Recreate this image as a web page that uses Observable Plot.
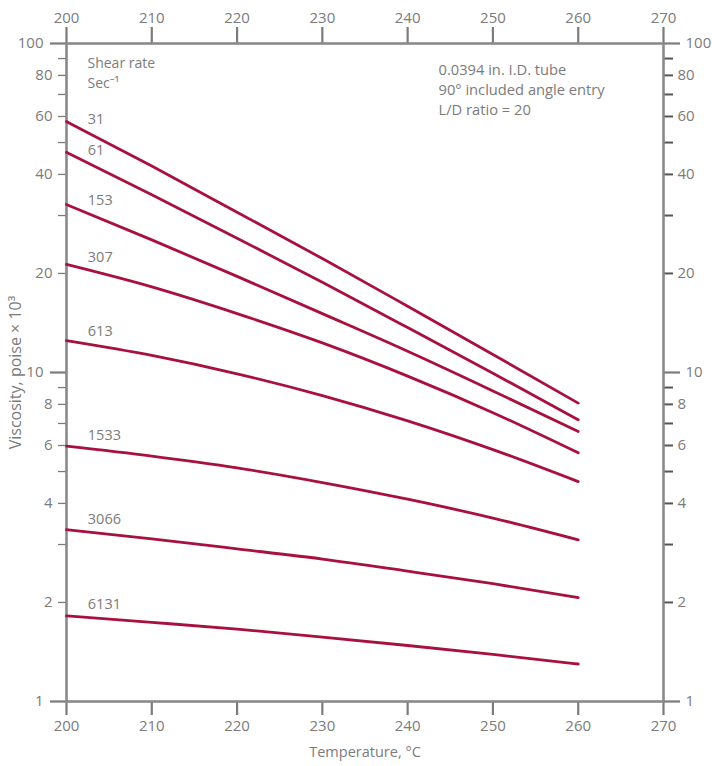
<!DOCTYPE html>
<html>
<head>
<meta charset="utf-8">
<script src="https://cdn.jsdelivr.net/npm/d3@7"></script>
<script src="https://cdn.jsdelivr.net/npm/@observablehq/plot@0.6"></script>
<style>
  html, body { margin: 0; padding: 0; background: #fff; }
  #chart svg { display: block; }
</style>
</head>
<body>
<div id="chart"></div>
<script>
// ---- data ----
const temperatures = [200, 210, 220, 230, 240, 250, 260];
const shearRates = ["31", "61", "153", "307", "613", "1533", "3066", "6131"];
const visc31   = [57.9, 42.4, 30.7, 22.2, 15.9, 11.35, 8.07];
const visc61   = [46.7, 34.7, 25.6, 18.8, 13.7, 9.95, 7.18];
const visc153  = [32.4, 25.3, 19.6, 15.1, 11.6, 8.79, 6.62];
const visc307  = [21.3, 18.2, 15.1, 12.3, 9.75, 7.55, 5.70];
const visc613  = [12.5, 11.27, 9.91, 8.51, 7.13, 5.83, 4.66];
const visc1533 = [5.97, 5.57, 5.13, 4.63, 4.12, 3.61, 3.10];
const visc3066 = [3.33, 3.12, 2.91, 2.71, 2.49, 2.28, 2.07];
const visc6131 = [1.82, 1.74, 1.66, 1.57, 1.48, 1.39, 1.30];

const xTicks = [200, 210, 220, 230, 240, 250, 260, 270];
const yMajorTicks = [1, 10, 100];
const yLabeledTicks = [2, 4, 6, 8, 20, 40, 60, 80];
const yMinorTicks = [3, 5, 7, 9, 30, 50, 70, 90];
const shearTitle = ["Shear rate", "Sec\u207B\u00B9"];
const noteLines = ["0.0394 in. I.D. tube", "90\u00B0 included angle entry", "L/D ratio = 20"];
const xTitle = "Temperature, \u00B0C";
const yTitle = "Viscosity, poise \u00D7 10\u00B3";

// ---- build tables ----
const series = [visc31, visc61, visc153, visc307, visc613, visc1533, visc3066, visc6131];
const rows = [];
series.forEach((vals, k) => vals.forEach((v, i) => rows.push({rate: shearRates[k], t: temperatures[i], v})));
const labelRows = series.map((vals, k) => {
  const f = 0.25;
  const v = Math.exp(Math.log(vals[0]) + f * (Math.log(vals[1]) - Math.log(vals[0])));
  return {rate: shearRates[k], t: temperatures[0] + f * (temperatures[1] - temperatures[0]), v};
});

const grey = "#7b7b7b";
const lineColor = "#a8113f";
const font = "'Open Sans', 'Noto Sans', sans-serif";

const chart = Plot.plot({
  width: 712,
  height: 766,
  marginLeft: 66,
  marginRight: 49,
  marginTop: 43,
  marginBottom: 65,
  style: {fontFamily: font, fontSize: "15px", color: grey, background: "#fff"},
  x: {domain: [200, 270]},
  y: {type: "log", domain: [1, 100]},
  marks: [
    // top & bottom axes
    Plot.axisX({anchor: "top", ticks: xTicks, tickSize: 17, tickPadding: 4, strokeWidth: 2.2, label: null, tickFormat: d => d, fontSize: 15}),
    Plot.axisX({anchor: "bottom", ticks: xTicks, tickSize: 14, tickPadding: 5, strokeWidth: 2.2, label: null, tickFormat: d => d, fontSize: 15}),
    // left axis ticks
    Plot.axisY({anchor: "left", ticks: yMajorTicks, tickSize: 16, tickPadding: 7, strokeWidth: 2.2, label: null, tickFormat: d => d, fontSize: 15}),
    Plot.axisY({anchor: "left", ticks: yLabeledTicks, tickSize: 8, strokeWidth: 1.3, label: null, tickFormat: () => ""}),
    Plot.axisY({anchor: "left", ticks: yMinorTicks, tickSize: 8, strokeWidth: 1.3, label: null, tickFormat: () => ""}),
    Plot.text(yLabeledTicks, {y: d => d, text: d => String(d), frameAnchor: "left", dx: -14, textAnchor: "end", lineAnchor: "middle", fill: grey, fontSize: 15}),
    // right axis ticks
    Plot.axisY({anchor: "right", ticks: yMajorTicks, tickSize: 16, tickPadding: 6, strokeWidth: 2.2, label: null, tickFormat: d => d, fontSize: 15}),
    Plot.axisY({anchor: "right", ticks: yLabeledTicks, tickSize: 9, strokeWidth: 2, stroke: "#555", label: null, tickFormat: () => ""}),
    Plot.axisY({anchor: "right", ticks: yMinorTicks, tickSize: 9, strokeWidth: 2, stroke: "#555", label: null, tickFormat: () => ""}),
    Plot.text(yLabeledTicks, {y: d => d, text: d => String(d), frameAnchor: "right", dx: 14, textAnchor: "start", lineAnchor: "middle", fill: grey, fontSize: 15}),
    Plot.frame({stroke: "#8a8a8a", strokeWidth: 2.6}),
    // curves
    Plot.line(rows, {x: "t", y: "v", z: "rate", stroke: lineColor, strokeWidth: 2.8, curve: "monotone-x"}),
    Plot.text(labelRows, {x: "t", y: "v", text: "rate", textAnchor: "start", dy: -13, fill: grey, fontSize: 14.5}),
    // annotations
    Plot.text([shearTitle.join("\n")], {frameAnchor: "top-left", dx: 21, dy: 10.5, lineAnchor: "top", lineHeight: 1.43, fill: grey, fontSize: 14}),
    Plot.text([noteLines.join("\n")], {frameAnchor: "top-left", dx: 372, dy: 17, lineAnchor: "top", lineHeight: 1.36, fill: grey, fontSize: 14.7}),
    // axis titles
    Plot.text([xTitle], {frameAnchor: "bottom", dy: 51, lineAnchor: "middle", fill: grey, fontSize: 14.5}),
    Plot.text([yTitle], {frameAnchor: "left", dx: -51, rotate: -90, textAnchor: "middle", lineAnchor: "middle", fill: grey, fontSize: 16})
  ]
});
document.getElementById("chart").appendChild(chart);
</script>
</body>
</html>
